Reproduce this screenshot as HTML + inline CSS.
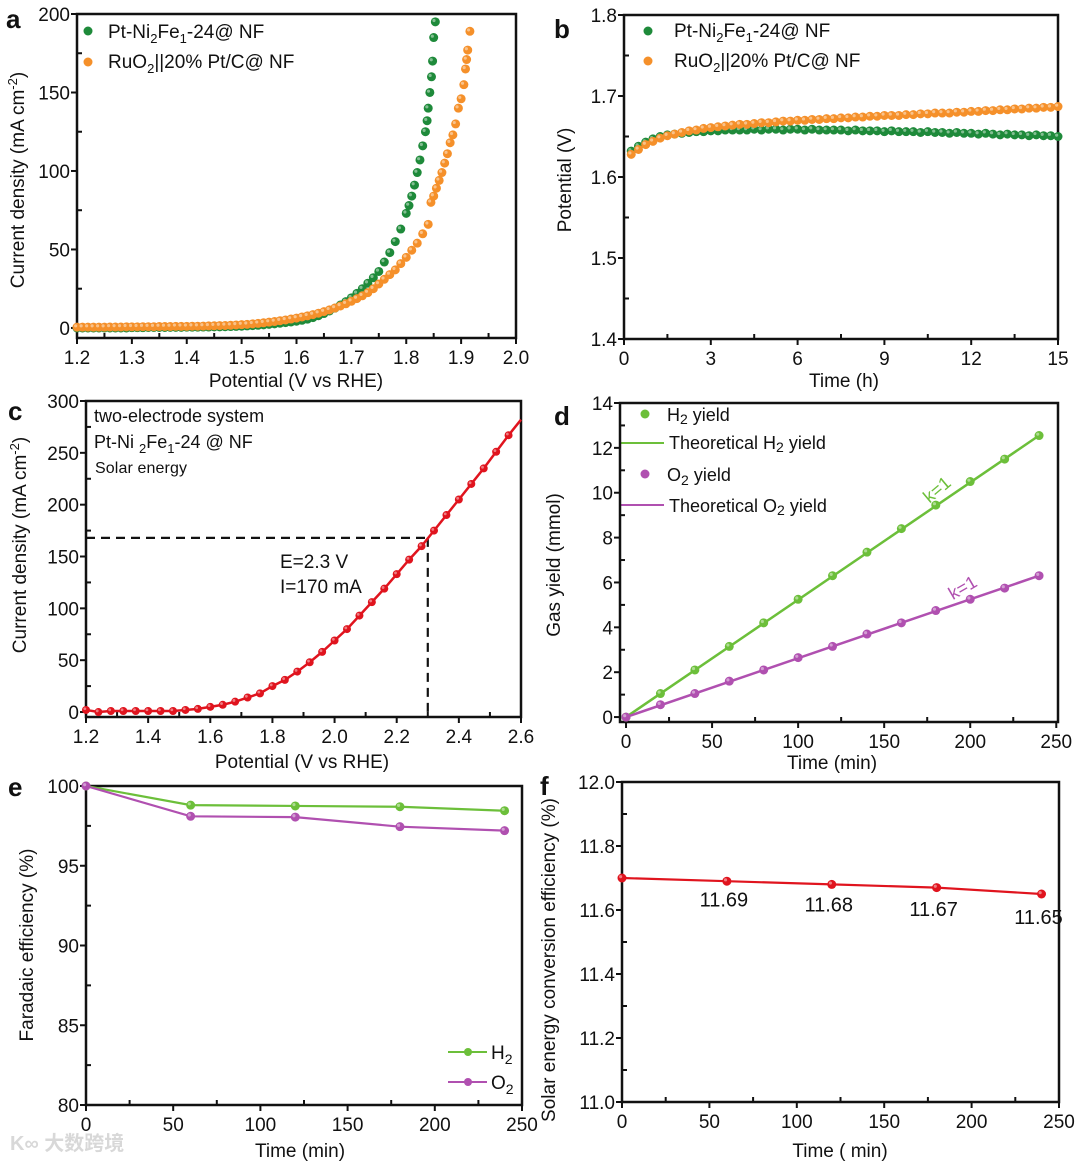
<!DOCTYPE html>
<html><head><meta charset="utf-8"><style>
body{margin:0;background:#fff}
svg{display:block;font-family:"Liberation Sans","Noto Sans CJK SC",sans-serif}
</style></head><body>
<svg id="fig" width="1080" height="1162" viewBox="0 0 1080 1162" xmlns="http://www.w3.org/2000/svg">
<g id="static" font-size="19" fill="#111">
<text x="6" y="28" font-size="26" font-weight="bold">a</text>
<text x="554" y="38" font-size="26" font-weight="bold">b</text>
<text x="8" y="420" font-size="26" font-weight="bold">c</text>
<text x="554" y="425" font-size="26" font-weight="bold">d</text>
<text x="8" y="796" font-size="26" font-weight="bold">e</text>
<text x="540" y="795" font-size="26" font-weight="bold">f</text>

<circle cx="88" cy="31" r="4.5" fill="#1e8a3a"/>
<text x="108" y="38">Pt-Ni<tspan dy="5" font-size="13">2</tspan><tspan dy="-5">Fe</tspan><tspan dy="5" font-size="13">1</tspan><tspan dy="-5">-24@ NF</tspan></text>
<circle cx="88" cy="62" r="4.5" fill="#f5902a"/>
<text x="108" y="68">RuO<tspan dy="5" font-size="13">2</tspan><tspan dy="-5">||20% Pt/C@ NF</tspan></text>

<circle cx="648" cy="31" r="4.5" fill="#1e8a3a"/>
<text x="674" y="37">Pt-Ni<tspan dy="5" font-size="13">2</tspan><tspan dy="-5">Fe</tspan><tspan dy="5" font-size="13">1</tspan><tspan dy="-5">-24@ NF</tspan></text>
<circle cx="648" cy="61" r="4.5" fill="#f5902a"/>
<text x="674" y="67">RuO<tspan dy="5" font-size="13">2</tspan><tspan dy="-5">||20% Pt/C@ NF</tspan></text>

<text x="94" y="422" font-size="18">two-electrode system</text>
<text x="94" y="448" font-size="18">Pt-Ni <tspan dy="5" font-size="13">2</tspan><tspan dy="-5">Fe</tspan><tspan dy="5" font-size="13">1</tspan><tspan dy="-5">-24 @ NF</tspan></text>
<text x="95" y="473" font-size="16" textLength="92">Solar energy</text>
<text x="280" y="568" font-size="19">E=2.3 V</text>
<text x="280" y="593" font-size="19">I=170 mA</text>

<circle cx="645" cy="414" r="4.5" fill="#6cbf3a"/>
<text x="667" y="421" font-size="18">H<tspan font-size="14" dy="3">2</tspan><tspan dy="-3"> yield</tspan></text>
<line x1="620" y1="443" x2="664" y2="443" stroke="#6cbf3a" stroke-width="2"/>
<text x="669" y="449" font-size="18">Theoretical H<tspan font-size="14" dy="3">2</tspan><tspan dy="-3"> yield</tspan></text>
<circle cx="645" cy="474" r="4.5" fill="#b050b0"/>
<text x="667" y="481" font-size="18">O<tspan font-size="14" dy="4">2</tspan><tspan dy="-4"> yield</tspan></text>
<line x1="620" y1="505" x2="664" y2="505" stroke="#b050b0" stroke-width="2"/>
<text x="669" y="512" font-size="18">Theoretical O<tspan font-size="14" dy="3">2</tspan><tspan dy="-3"> yield</tspan></text>
<text x="922" y="497" font-size="18" fill="#6cbf3a" transform="rotate(-40 935 490)">k=1</text>
<text x="948" y="594" font-size="18" fill="#b050b0" transform="rotate(-30 962 588)">k=1</text>

<line x1="448" y1="1052" x2="487" y2="1052" stroke="#6cbf3a" stroke-width="2"/>
<circle cx="468" cy="1052" r="4" fill="#6cbf3a"/>
<text x="491" y="1059" font-size="19">H<tspan font-size="14" dy="5">2</tspan></text>
<line x1="448" y1="1082" x2="487" y2="1082" stroke="#b050b0" stroke-width="2"/>
<circle cx="468" cy="1082" r="4" fill="#b050b0"/>
<text x="491" y="1089" font-size="19">O<tspan font-size="14" dy="5">2</tspan></text>

<text x="10" y="1150" font-size="20" fill="#d8d8d8" font-weight="bold">K∞ 大数跨境</text>
</g>
</svg>
<script>
// ---- data ----
const aGreenX=[1.20,1.21,1.22,1.23,1.24,1.25,1.26,1.27,1.28,1.29,1.30,1.31,1.32,1.33,1.34,1.35,1.36,1.37,1.38,1.39,1.40,1.41,1.42,1.43,1.44,1.45,1.46,1.47,1.48,1.49,1.50,1.51,1.52,1.53,1.54,1.55,1.56,1.57,1.58,1.59,1.60,1.61,1.62,1.63,1.64,1.65,1.66,1.67,1.68,1.69,1.70,1.71,1.72,1.73,1.74,1.75,1.76,1.77,1.78,1.79,1.80,1.805,1.81,1.815,1.82,1.825,1.83,1.835,1.838,1.84,1.843,1.846,1.848,1.85,1.853];
const aGreenY=[0,0,0,0,0,0,0,0,0,0,0.2,0.2,0.2,0.3,0.3,0.3,0.3,0.4,0.4,0.4,0.5,0.5,0.5,0.6,0.6,0.7,0.7,0.8,0.9,1.0,1.1,1.3,1.5,1.7,2.0,2.3,2.6,3.0,3.4,3.8,4.3,4.9,5.6,6.6,7.8,9.2,10.8,12.6,14.6,16.8,19.2,22,25,28.5,32,36,42,48,55,63,73,78,84,91,99,107,116,125,132,140,150,160,170,185,195];
const aOrangeX=[1.20,1.21,1.22,1.23,1.24,1.25,1.26,1.27,1.28,1.29,1.30,1.31,1.32,1.33,1.34,1.35,1.36,1.37,1.38,1.39,1.40,1.41,1.42,1.43,1.44,1.45,1.46,1.47,1.48,1.49,1.50,1.51,1.52,1.53,1.54,1.55,1.56,1.57,1.58,1.59,1.60,1.61,1.62,1.63,1.64,1.65,1.66,1.67,1.68,1.69,1.70,1.71,1.72,1.73,1.74,1.75,1.76,1.77,1.78,1.79,1.80,1.81,1.82,1.83,1.84,1.845,1.85,1.855,1.86,1.865,1.87,1.875,1.88,1.885,1.89,1.895,1.90,1.905,1.908,1.91,1.912,1.916];
const aOrangeY=[0.5,0.5,0.5,0.5,0.5,0.5,0.6,0.6,0.6,0.7,0.7,0.7,0.8,0.8,0.8,0.9,0.9,0.9,1.0,1.0,1.0,1.1,1.1,1.2,1.3,1.4,1.5,1.6,1.7,1.9,2.1,2.3,2.6,2.9,3.3,3.7,4.1,4.6,5.1,5.7,6.3,7.0,7.7,8.5,9.4,10.4,11.5,12.7,14,15.4,17,18.7,20.5,22.5,25,28,31,34,37,41,45,49.5,54,60,66,80,84,89,94,99,105,111,118,123,130,140,146,155,165,171,177,189,196];
const bGreen=[1.632,1.638,1.643,1.647,1.650,1.652,1.653,1.654,1.655,1.656,1.656,1.657,1.657,1.658,1.658,1.658,1.658,1.659,1.658,1.659,1.659,1.658,1.659,1.659,1.658,1.659,1.658,1.658,1.658,1.658,1.657,1.658,1.657,1.657,1.657,1.656,1.657,1.656,1.656,1.656,1.655,1.656,1.655,1.655,1.654,1.655,1.654,1.654,1.653,1.654,1.653,1.652,1.653,1.652,1.652,1.651,1.652,1.651,1.651,1.650];
const bOrange=[1.628,1.634,1.640,1.644,1.648,1.651,1.653,1.655,1.657,1.658,1.660,1.661,1.662,1.663,1.664,1.665,1.665,1.666,1.667,1.667,1.668,1.669,1.669,1.670,1.670,1.671,1.671,1.672,1.672,1.673,1.673,1.674,1.674,1.675,1.675,1.676,1.676,1.676,1.677,1.677,1.678,1.678,1.679,1.679,1.679,1.680,1.680,1.681,1.681,1.682,1.682,1.683,1.683,1.684,1.684,1.685,1.685,1.686,1.686,1.687];
const bTimeStep=0.25;
const cX=[1.20,1.24,1.28,1.32,1.36,1.40,1.44,1.48,1.52,1.56,1.60,1.64,1.68,1.72,1.76,1.80,1.84,1.88,1.92,1.96,2.00,2.04,2.08,2.12,2.16,2.20,2.24,2.28,2.32,2.36,2.40,2.44,2.48,2.52,2.56];
const cY=[2,0,1,1,1,1,1,1,2,3,5,7,10,14,18,25,31,39,48,58,69,80,93,106,119,133,147,160,175,190,205,220,235,251,267];
const cLineEnd=[2.6,282];
const cMark=[2.3,168];
const dTime=[0,20,40,60,80,100,120,140,160,180,200,220,240];
const dH2=[0,1.05,2.1,3.15,4.2,5.25,6.3,7.35,8.4,9.45,10.5,11.5,12.55];
const dO2=[0,0.55,1.05,1.6,2.1,2.65,3.15,3.7,4.2,4.75,5.25,5.75,6.3];
const eTime=[0,60,120,180,240];
const eH2=[100,98.8,98.75,98.7,98.45];
const eO2=[100,98.1,98.05,97.45,97.2];
const fTime=[0,60,120,180,240];
const fEff=[11.70,11.69,11.68,11.67,11.65];
const fLabels=["","11.69","11.68","11.67","11.65"];

// ---- helpers ----
const NS="http://www.w3.org/2000/svg";
const svg=document.getElementById('fig');
function mk(tag,attrs,parent){const e=document.createElementNS(NS,tag);for(const k in attrs)e.setAttribute(k,attrs[k]);(parent||svg).appendChild(e);return e;}
function axes(p){
  const g=mk('g',{});
  
  
  p.sx=v=>p.L+(v-p.xmin)/(p.xmax-p.xmin)*(p.R-p.L);
  p.sy=v=>p.B-(v-p.ymin)/(p.ymax-p.ymin)*(p.B-p.T);
  const fr=mk('rect',{x:p.L,y:p.T,width:p.R-p.L,height:p.B-p.T,fill:'none',stroke:'#111','stroke-width':2.5},g);
  
  
  p.xt.forEach((v,i)=>{const x=p.sx(v);
    mk('line',{x1:x,y1:p.B,x2:x,y2:p.B+6,stroke:'#111','stroke-width':2},g);
    const t=mk('text',{x:x,y:p.B+26,'text-anchor':'middle','font-size':19,fill:'#111'},g);
    t.textContent=p.xl[i];
    
    
    if(i<p.xt.length-1){const m=p.sx((v+p.xt[i+1])/2);mk('line',{x1:m,y1:p.B,x2:m,y2:p.B-5,stroke:'#111','stroke-width':2},g);}
  });
  p.yt.forEach((v,i)=>{const y=p.sy(v);
    mk('line',{x1:p.L-6,y1:y,x2:p.L,y2:y,stroke:'#111','stroke-width':2},g);
    const t=mk('text',{x:p.L-7,y:y+7,'text-anchor':'end','font-size':19,fill:'#111'},g);
    t.textContent=p.yl[i];
    
    
    if(i<p.yt.length-1){const m=p.sy((v+p.yt[i+1])/2);mk('line',{x1:p.L,y1:m,x2:p.L+5,y2:m,stroke:'#111','stroke-width':2},g);}
  });
  const xt=mk('text',{x:p.xtx,y:p.xty,'text-anchor':'middle','font-size':19,fill:'#111'},g);
  xt.innerHTML=p.xtitle;
  
  
  const yt=mk('text',{x:p.ytx,y:p.yty,'text-anchor':'middle','font-size':19,fill:'#111',transform:`rotate(-90 ${p.ytx} ${p.yty})`},g);
  yt.innerHTML=p.ytitle;
  
  
  return p;
}
function dots(p,xs,ys,col,r,name){const g=mk('g',{});
  
  
  xs.forEach((x,i)=>{const c=mk('circle',{cx:p.sx(x),cy:p.sy(ys[i]),r:r,fill:col},g);
    
    
    mk('circle',{cx:p.sx(x)-r*0.3,cy:p.sy(ys[i])-r*0.3,r:r*0.35,fill:'#fff','fill-opacity':0.45},g);});
}
function line(p,xs,ys,col,w,name,dash){const l=mk('polyline',{points:xs.map((x,i)=>p.sx(x)+','+p.sy(ys[i])).join(' '),fill:'none',stroke:col,'stroke-width':w});
  if(dash)l.setAttribute('stroke-dasharray',dash);
  
  }
const rng=(a,b,s)=>{const r=[];for(let v=a;v<=b+1e-9;v+=s)r.push(+v.toFixed(4));return r;};

// Panel a
const pa=axes({name:'panel-a',L:77,R:516,T:14,B:338,xmin:1.2,xmax:2.0,ymin:-6.4,ymax:200,
 xt:rng(1.2,2.0,0.1),xl:rng(1.2,2.0,0.1).map(v=>v.toFixed(1)),yt:[0,50,100,150,200],yl:['0','50','100','150','200'],
 xtx:296,xty:387,ytx:24,yty:180,xtitle:'Potential (V vs RHE)',ytitle:'Current density (mA cm<tspan dy="-7" font-size="13">-2</tspan><tspan dy="7">)</tspan>'});
dots(pa,aGreenX,aGreenY,'#1e8a3a',4.5,'series-ptnife-lsv');
dots(pa,aOrangeX,aOrangeY,'#f5902a',4.5,'series-ruo2-lsv');
// Panel b
const pb=axes({name:'panel-b',L:624,R:1058,T:15,B:339,xmin:0,xmax:15,ymin:1.4,ymax:1.8,
 xt:[0,3,6,9,12,15],xl:['0','3','6','9','12','15'],yt:[1.4,1.5,1.6,1.7,1.8],yl:['1.4','1.5','1.6','1.7','1.8'],
 xtx:844,xty:387,ytx:571,yty:180,xtitle:'Time (h)',ytitle:'Potential (V)'});
const bT=bGreen.map((_,i)=>(i+1)*bTimeStep);
dots(pb,bT,bGreen,'#1e8a3a',4.5,'series-ptnife-stability');
dots(pb,bT,bOrange,'#f5902a',4.5,'series-ruo2-stability');
// Panel c
const pc=axes({name:'panel-c',L:86,R:521,T:401,B:717,xmin:1.2,xmax:2.6,ymin:-4.8,ymax:300,
 xt:rng(1.2,2.6,0.2),xl:rng(1.2,2.6,0.2).map(v=>v.toFixed(1)),yt:[0,50,100,150,200,250,300],yl:['0','50','100','150','200','250','300'],
 xtx:302,xty:768,ytx:26,yty:545,xtitle:'Potential (V vs RHE)',ytitle:'Current density (mA cm<tspan dy="-7" font-size="13">-2</tspan><tspan dy="7">)</tspan>'});
line(pc,[1.2,cMark[0]],[cMark[1],cMark[1]],'#111',2.2,'guide-horizontal','9,6');
line(pc,[cMark[0],cMark[0]],[cMark[1],pc.ymin],'#111',2.2,'guide-vertical','9,6');
line(pc,cX.concat([cLineEnd[0]]),cY.concat([cLineEnd[1]]),'#e0141e',2.5,'series-solar-iv-line');
dots(pc,cX,cY,'#e0141e',4,'series-solar-iv');
// Panel d
const pd=axes({name:'panel-d',L:620,R:1058,T:403,B:722,xmin:-3.5,xmax:251,ymin:-0.22,ymax:14,
 xt:[0,50,100,150,200,250],xl:['0','50','100','150','200','250'],yt:[0,2,4,6,8,10,12,14],yl:['0','2','4','6','8','10','12','14'],
 xtx:832,xty:769,ytx:560,yty:565,xtitle:'Time (min)',ytitle:'Gas yield (mmol)'});
line(pd,[dTime[0],dTime[dTime.length-1]],[dH2[0],dH2[dH2.length-1]],'#6cbf3a',2.5,'theoretical-h2-line');
line(pd,[dTime[0],dTime[dTime.length-1]],[dO2[0],dO2[dO2.length-1]],'#b050b0',2.5,'theoretical-o2-line');
dots(pd,dTime,dH2,'#6cbf3a',4.5,'series-h2-yield');
dots(pd,dTime,dO2,'#b050b0',4.5,'series-o2-yield');
// Panel e
const pe=axes({name:'panel-e',L:86,R:522,T:786,B:1105,xmin:0,xmax:250,ymin:80,ymax:100,
 xt:[0,50,100,150,200,250],xl:['0','50','100','150','200','250'],yt:[80,85,90,95,100],yl:['80','85','90','95','100'],
 xtx:300,xty:1157,ytx:33,yty:945,xtitle:'Time (min)',ytitle:'Faradaic efficiency (%)'});
line(pe,eTime,eH2,'#6cbf3a',2.2,'series-h2-fe-line');
line(pe,eTime,eO2,'#b050b0',2.2,'series-o2-fe-line');
dots(pe,eTime,eH2,'#6cbf3a',4.5,'series-h2-fe');
dots(pe,eTime,eO2,'#b050b0',4.5,'series-o2-fe');
// Panel f
const pf=axes({name:'panel-f',L:622,R:1059,T:782,B:1102,xmin:0,xmax:250,ymin:11,ymax:12,
 xt:[0,50,100,150,200,250],xl:['0','50','100','150','200','250'],yt:[11,11.2,11.4,11.6,11.8,12],yl:['11.0','11.2','11.4','11.6','11.8','12.0'],
 xtx:840,xty:1157,ytx:555,yty:960,xtitle:'Time ( min)',ytitle:'Solar energy conversion efficiency (%)'});
line(pf,fTime,fEff,'#e0141e',2.2,'series-ste-line');
dots(pf,fTime,fEff,'#e0141e',4.5,'series-ste');
fTime.forEach((t,i)=>{if(!fLabels[i])return;
  const tx=mk('text',{x:pf.sx(t)-3,y:pf.sy(fEff[i])+24+i*1.5,'text-anchor':'middle','font-size':20,fill:'#111'});
  tx.textContent=fLabels[i];
  
  });
</script>
</body></html>
